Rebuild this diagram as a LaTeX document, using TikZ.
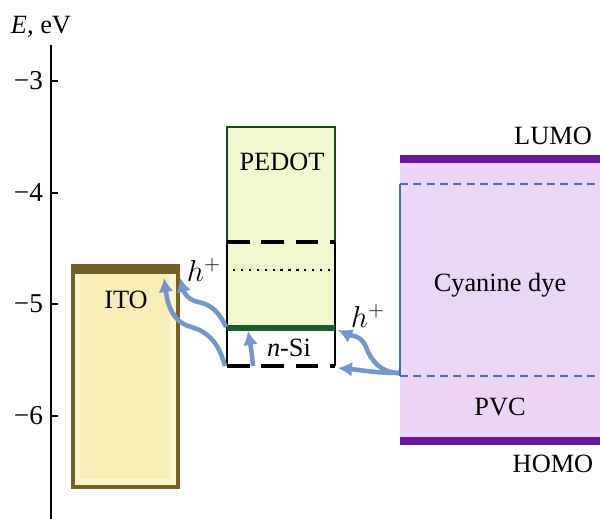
\documentclass[tikz,border=0pt]{standalone}
\usepackage{fontspec}
\setmainfont{Liberation Serif}
\usetikzlibrary{arrows.meta}
\definecolor{itoedge}{RGB}{117,96,38}
\definecolor{itofill}{RGB}{249,237,182}
\definecolor{itolight}{RGB}{253,245,205}
\definecolor{pedotfill}{RGB}{242,248,206}
\definecolor{pedotedge}{RGB}{35,68,28}
\definecolor{sibar}{RGB}{25,95,45}
\definecolor{dyefill}{RGB}{237,212,245}
\definecolor{dyeinner}{RGB}{234,214,246}
\definecolor{dyebar}{RGB}{104,24,160}
\definecolor{dyeline}{RGB}{72,104,178}
\definecolor{holeblue}{RGB}{116,150,204}
\tikzset{
  axisline/.style={black,line width=0.7pt},
  level/.style={black,line width=1.8pt,dash pattern=on 13pt off 6.5pt},
  fermi/.style={black,line width=1.3pt,dash pattern=on 1.3pt off 3.2pt},
  dyelevel/.style={dyeline,line width=0.8pt,dash pattern=on 4.6pt off 3pt},
  hole/.style={holeblue,line width=2.6pt,-{Latex[length=2.8mm,width=3mm]}},
  lab/.style={font=\fontsize{15}{17}\selectfont,inner sep=1pt},
  ticklab/.style={font=\fontsize{15.5}{17}\selectfont,anchor=east,inner sep=1pt},
}
\begin{document}
\begin{tikzpicture}[x=0.02cm,y=0.02cm]
  \path[use as bounding box] (0,0) rectangle (600,519);

  % energy axis
  \draw[axisline] (51,0) -- (51,474);
  \node[lab] (axislab) at (41,492) {\textit{E}, eV};
  \foreach \y/\val in {438/3,326/4,215/5,103/6}{
    \draw[axisline] (51,\y) -- (58,\y);
    \node[ticklab] (tick\val) at (45,\y) {−\val};
  }

  % ITO
  \fill[itolight] (73,32) rectangle (178,253);
  \fill[itofill] (80,40) rectangle (170,245);
  \draw[itoedge,line width=1.8pt] (73,32) rectangle (178,253);
  \fill[itoedge] (73,245) rectangle (178,253);
  \node[lab] (ito) at (126,219) {ITO};

  % PEDOT and n-Si
  \fill[pedotfill] (227,191) rectangle (335,392);
  \draw[pedotedge,line width=1.5pt] (227,277) -- (227,392) -- (335,392) -- (335,277);
  \draw[black,line width=1.5pt] (227,277) -- (227,153) (335,277) -- (335,153);
  \fill[sibar] (227,188) rectangle (335,194);
  \draw[level] (227,277) -- (335,277);
  \draw[level] (227,153) -- (335,153);
  \draw[fermi] (233,249) -- (330,249);
  \node[lab] (pedot) at (282,357) {PEDOT};
  \node[lab] (nsi) at (289,171) {\textit{n}-Si};

  % cyanine dye in PVC
  \fill[dyefill] (400,78) rectangle (600,360);
  \fill[dyeinner] (400,143) rectangle (600,335);
  \draw[dyeline,line width=0.8pt] (400,143) -- (400,335);
  \draw[dyelevel] (400,335) -- (600,335);
  \draw[dyelevel] (400,143) -- (600,143);
  \fill[dyebar] (400,356) rectangle (600,364);
  \fill[dyebar] (400,74) rectangle (600,82);
  \node[lab] (lumo) at (553,383) {LUMO};
  \node[lab] (homo) at (553,55) {HOMO};
  \node[lab] (dye) at (500,234) {Cyanine dye};
  \node[lab] (pvc) at (500,112) {PVC};

  % hole transfer
  \coordinate (a1) at (225,153);
  \coordinate (a2) at (191,192);
  \coordinate (a3) at (164,241);
  \coordinate (b1) at (226,192);
  \coordinate (b2) at (198,217);
  \coordinate (b3) at (180,241);
  \coordinate (c1) at (253,153);
  \coordinate (c2) at (248,188);
  \coordinate (d1) at (399,146);
  \coordinate (d2) at (366,172);
  \coordinate (d3) at (338,189);
  \coordinate (e2) at (338,151);
  \draw[hole] (a1) to[out=105,in=-15] (a2) to[out=165,in=-82] (a3);
  \draw[hole] (b1) to[out=115,in=-10] (b2) to[out=170,in=-75] (b3);
  \draw[hole] (c1) to[out=95,in=-80] (c2);
  \draw[hole] (d1) to[out=180,in=-70] (d2) to[out=110,in=-25] (d3);
  \draw[hole] (d1) to[out=180,in=-5] (e2);
  \node[lab,font=\fontsize{17}{19}\selectfont] (hleft) at (204,249) {$h^{+}$};
  \node[lab,font=\fontsize{17}{19}\selectfont] (hright) at (368,203) {$h^{+}$};
\end{tikzpicture}
\end{document}
